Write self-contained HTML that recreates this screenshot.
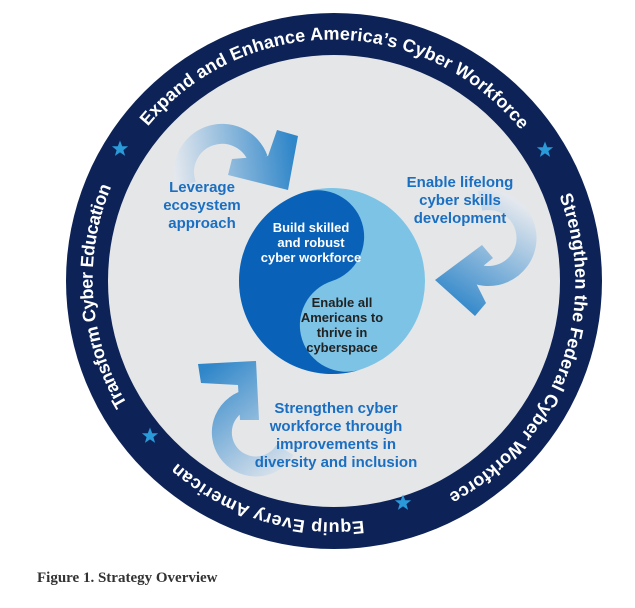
<!DOCTYPE html>
<html><head><meta charset="utf-8"><style>
html,body{margin:0;padding:0;background:#fff;}
svg{display:block;}
</style></head><body>
<svg width="635" height="608" viewBox="0 0 635 608" xmlns="http://www.w3.org/2000/svg">
<defs>
<path id="ring" d="M 164.3,450.7 A 240,240 0 1 1 503.7,111.3 A 240,240 0 1 1 164.3,450.7"/>
<linearGradient id="g1" gradientUnits="userSpaceOnUse" x1="175" y1="175" x2="295" y2="160">
<stop offset="0" stop-color="#e4e8ee"/><stop offset="1" stop-color="#2f86c9"/></linearGradient>
<linearGradient id="g2" gradientUnits="userSpaceOnUse" x1="505" y1="195" x2="440" y2="300">
<stop offset="0" stop-color="#e4e8ee"/><stop offset="1" stop-color="#2f86c9"/></linearGradient>
<linearGradient id="g3" gradientUnits="userSpaceOnUse" x1="295" y1="470" x2="210" y2="365">
<stop offset="0" stop-color="#e4e8ee"/><stop offset="1" stop-color="#2f86c9"/></linearGradient>
<polygon id="star" points="0,-8.5 2.2,-2.7 8.1,-2.7 3.4,1.1 5.1,6.9 0,3.4 -5.1,6.9 -3.4,1.1 -8.1,-2.7 -2.2,-2.7" fill="#2a9ad9"/>
</defs>
<circle cx="334" cy="281" r="268" fill="#0d2357"/>
<circle cx="334" cy="281" r="226" fill="#e5e6e8"/>
<g font-family="Liberation Sans, sans-serif" font-size="18" font-weight="bold" fill="#fff">
<text><textPath href="#ring" startOffset="37.6%" text-anchor="middle" textLength="427" lengthAdjust="spacing">Expand and Enhance America’s Cyber Workforce</textPath></text>
<text><textPath href="#ring" startOffset="68.2%" text-anchor="middle" textLength="348" lengthAdjust="spacing">Strengthen the Federal Cyber Workforce</textPath></text>
<text><textPath href="#ring" startOffset="92.2%" text-anchor="middle" textLength="201" lengthAdjust="spacing">Equip Every American</textPath></text>
<text><textPath href="#ring" startOffset="11.4%" text-anchor="middle" textLength="226" lengthAdjust="spacing">Transform Cyber Education</textPath></text>
</g>
<use href="#star" x="120" y="149"/>
<use href="#star" x="545" y="150"/>
<use href="#star" x="150" y="436"/>
<use href="#star" x="403" y="503"/>
<!-- arrows -->
<path d="M 186.3,185 A 38,38 0 1 1 258,159" fill="none" stroke="url(#g1)" stroke-width="20"/>
<polygon points="277,130 298,136 288,190 228,175 232,159 268,156" fill="url(#g1)"/>
<path d="M 480,201 A 38,38 0 1 1 468,270" fill="none" stroke="url(#g2)" stroke-width="20"/>
<polygon points="435,280 482,245 493,258 472,275 486,303 475,316" fill="url(#g2)"/>
<path d="M 250,399 A 34,34 0 1 0 285,450" fill="none" stroke="url(#g3)" stroke-width="20"/>
<polygon points="198,364 256,361 259,420 240,420 238,385 201,383" fill="url(#g3)"/>
<!-- yin yang -->
<circle cx="332" cy="281" r="93" fill="#7cc3e5"/>
<path d="M 332,188 A 93,93 0 0 0 332,374 A 46.5,46.5 0 0 1 332,281 A 46.5,46.5 0 0 0 332,188 Z" fill="#0a62b8" transform="rotate(-18 332 281)"/>
<g font-family="Liberation Sans, sans-serif" font-weight="bold" font-size="13" text-anchor="middle">
<text fill="#fff"><tspan x="311" y="232">Build skilled</tspan><tspan x="311" y="247">and robust</tspan><tspan x="311" y="262">cyber workforce</tspan></text>
<text fill="#222"><tspan x="342" y="307">Enable all</tspan><tspan x="342" y="322">Americans to</tspan><tspan x="342" y="337">thrive in</tspan><tspan x="342" y="352">cyberspace</tspan></text>
</g>
<g font-family="Liberation Sans, sans-serif" font-weight="bold" font-size="15" fill="#1a6fc2" text-anchor="middle">
<text><tspan x="202" y="192">Leverage</tspan><tspan x="202" y="210">ecosystem</tspan><tspan x="202" y="228">approach</tspan></text>
<text><tspan x="460" y="187">Enable lifelong</tspan><tspan x="460" y="205">cyber skills</tspan><tspan x="460" y="223">development</tspan></text>
<text><tspan x="336" y="413">Strengthen cyber</tspan><tspan x="336" y="431">workforce through</tspan><tspan x="336" y="449">improvements in</tspan><tspan x="336" y="467">diversity and inclusion</tspan></text>
</g>
<text x="37" y="582" font-family="Liberation Serif, serif" font-weight="bold" font-size="15" fill="#333">Figure 1. Strategy Overview</text>
</svg>
</body></html>
